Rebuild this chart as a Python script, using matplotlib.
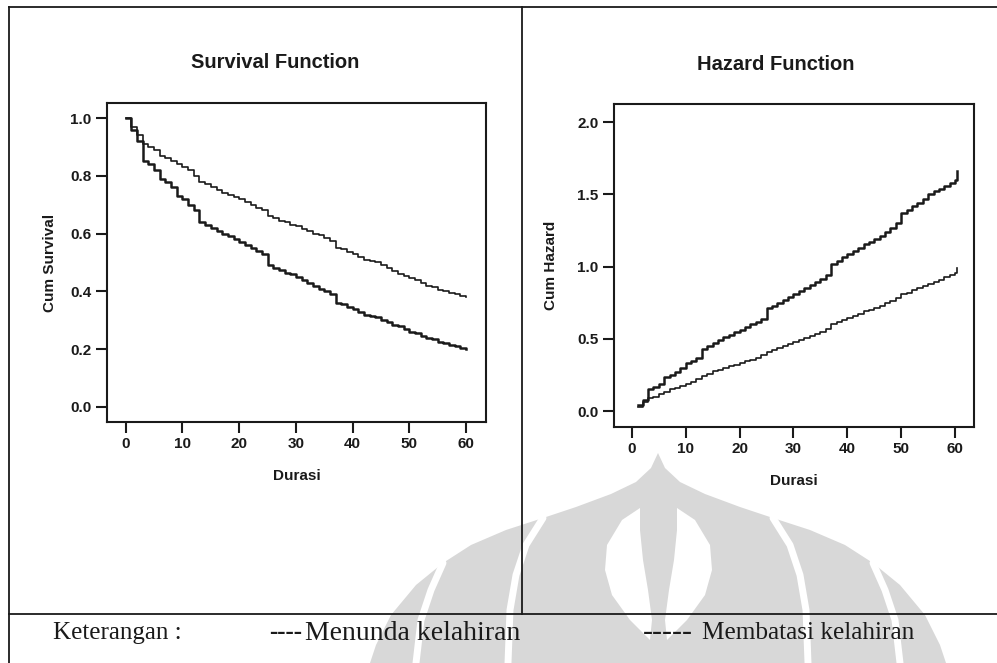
import matplotlib
matplotlib.use("Agg")
import matplotlib.pyplot as plt
from matplotlib.patches import Polygon

# ---------------- data ----------------
surv_time = list(range(0, 61))
surv_menunda = [1.00, 0.96, 0.92, 0.85, 0.84, 0.82, 0.79, 0.78, 0.76, 0.73,
                0.72, 0.70, 0.68, 0.64, 0.63, 0.62, 0.61, 0.60, 0.59, 0.58,
                0.57, 0.56, 0.55, 0.54, 0.53, 0.49, 0.48, 0.475, 0.465, 0.46,
                0.45, 0.44, 0.43, 0.42, 0.41, 0.40, 0.39, 0.36, 0.355, 0.345,
                0.34, 0.33, 0.32, 0.315, 0.31, 0.30, 0.295, 0.285, 0.28, 0.27,
                0.26, 0.255, 0.245, 0.24, 0.235, 0.225, 0.22, 0.215, 0.21, 0.205,
                0.20]
surv_membatasi = [1.00, 0.97, 0.94, 0.91, 0.90, 0.89, 0.87, 0.86, 0.85, 0.84,
                  0.83, 0.82, 0.80, 0.78, 0.77, 0.76, 0.75, 0.74, 0.735, 0.725,
                  0.72, 0.71, 0.70, 0.69, 0.68, 0.66, 0.655, 0.645, 0.64, 0.63,
                  0.625, 0.615, 0.61, 0.60, 0.595, 0.585, 0.575, 0.55, 0.545, 0.535,
                  0.53, 0.52, 0.51, 0.505, 0.50, 0.49, 0.48, 0.47, 0.46, 0.455,
                  0.445, 0.44, 0.43, 0.42, 0.415, 0.405, 0.40, 0.395, 0.39, 0.385,
                  0.38]

haz_time = [1.2] + list(range(2, 61)) + [60.3]
haz_menunda = [0.04, 0.075, 0.155, 0.17, 0.19, 0.235, 0.25, 0.27, 0.30, 0.33,
               0.35, 0.37, 0.43, 0.45, 0.47, 0.49, 0.51, 0.53, 0.545, 0.56,
               0.58, 0.60, 0.62, 0.64, 0.71, 0.725, 0.745, 0.77, 0.79, 0.81,
               0.83, 0.85, 0.87, 0.89, 0.915, 0.94, 1.02, 1.04, 1.065, 1.09,
               1.11, 1.13, 1.155, 1.17, 1.19, 1.215, 1.24, 1.27, 1.30, 1.37,
               1.39, 1.42, 1.44, 1.47, 1.50, 1.52, 1.54, 1.56, 1.58, 1.60,
               1.66]
haz_membatasi = [0.03, 0.06, 0.09, 0.10, 0.12, 0.135, 0.15, 0.16, 0.175, 0.19,
                 0.20, 0.22, 0.245, 0.26, 0.275, 0.285, 0.30, 0.31, 0.32, 0.33,
                 0.345, 0.355, 0.37, 0.385, 0.41, 0.425, 0.44, 0.45, 0.465, 0.48,
                 0.495, 0.505, 0.52, 0.535, 0.55, 0.57, 0.60, 0.615, 0.63, 0.645,
                 0.66, 0.675, 0.69, 0.70, 0.715, 0.73, 0.745, 0.765, 0.785, 0.81,
                 0.82, 0.835, 0.85, 0.865, 0.88, 0.895, 0.91, 0.925, 0.94, 0.955,
                 0.99]

x_ticks = [0, 10, 20, 30, 40, 50, 60]
surv_yticks = [0.0, 0.2, 0.4, 0.6, 0.8, 1.0]
haz_yticks = [0.0, 0.5, 1.0, 1.5, 2.0]

# ---------------- figure ----------------
W, H = 997, 663
fig = plt.figure(figsize=(W / 100, H / 100), dpi=100)
fig.patch.set_facecolor("white")

sans = ["Liberation Sans", "DejaVu Sans"]
serif = ["Liberation Serif", "DejaVu Serif"]
ink = "#1a1a1a"

# background layer in pixel coordinates (watermark, frame, legend)
bg = fig.add_axes([0, 0, 1, 1], zorder=0)
bg.set_xlim(0, W)
bg.set_ylim(H, 0)
bg.axis("off")

wm = "#d8d8d8"
right_sil = [(658, 453), (665, 468), (680, 482), (705, 494), (740, 507),
             (773, 518), (810, 530), (845, 545), (873, 563), (900, 585),
             (925, 615), (940, 645), (946, 663)]
left_sil = [(1316 - x, y) for x, y in right_sil]
sil = right_sil + [(946, 700), (370, 700)] + left_sil[::-1]
bg.add_patch(Polygon(sil, closed=True, facecolor=wm, edgecolor="none", zorder=1))
for gap in ([(773, 518), (790, 545), (800, 575), (806, 610), (808, 663)],
            [(873, 563), (885, 590), (895, 620), (900, 663)]):
    gx = [p[0] for p in gap]
    gy = [p[1] for p in gap]
    bg.plot(gx, gy, color="white", lw=5, solid_capstyle="round", zorder=2)
    bg.plot([1316 - v for v in gx], gy, color="white", lw=5,
            solid_capstyle="round", zorder=2)
lens = [(640, 508), (622, 520), (607, 545), (605, 570), (612, 595), (630, 620),
        (650, 640), (652, 620), (648, 590), (643, 560), (640, 530)]
bg.add_patch(Polygon(lens, closed=True, facecolor="white", edgecolor="none", zorder=2))
bg.add_patch(Polygon([(1317 - x, y) for x, y in lens], closed=True,
                     facecolor="white", edgecolor="none", zorder=2))

# table frame
fl = dict(color=ink, lw=1.3, zorder=5)
bg.plot([9, W], [7, 7], **fl)
bg.plot([9, 9], [7, H], **fl)
bg.plot([522, 522], [7, 614], **fl)
bg.plot([9, W], [614, 614], **fl)

# legend row
ty = 633
bg.text(53, ty, "Keterangan :", family=serif, fontsize=18, color=ink,
        va="center", ha="left", zorder=6)
bg.text(269, ty, "----", family=serif, fontsize=18, fontweight="bold",
        color=ink, va="center", ha="left", zorder=6)
bg.text(305, ty, "Menunda kelahiran", family=serif, fontsize=20, color=ink,
        va="center", ha="left", zorder=6)
bg.text(643, ty, "-----", family=serif, fontsize=21.5, color=ink,
        va="center", ha="left", zorder=6)
bg.text(702, ty, "Membatasi kelahiran", family=serif, fontsize=18.2,
        color=ink, va="center", ha="left", zorder=6)


def style_axes(ax, yticks, ylim, ylabel, title, title_x, title_y):
    ax.set_xlim(-3.3, 63.5)
    ax.set_ylim(*ylim)
    ax.set_xticks(x_ticks)
    ax.set_yticks(yticks)
    ax.set_yticklabels([f"{v:.1f}" for v in yticks])
    for side in ("left", "bottom", "top", "right"):
        ax.spines[side].set_linewidth(1.5)
        ax.spines[side].set_color(ink)
    ax.tick_params(direction="out", length=8, width=1.5, color=ink,
                   labelsize=11, labelcolor=ink, pad=3)
    for lab in ax.get_xticklabels() + ax.get_yticklabels():
        lab.set_fontfamily(sans)
        lab.set_fontweight("bold")
    ax.set_xlabel("Durasi", family=sans, fontweight="bold", fontsize=11,
                  color=ink, labelpad=13)
    ax.set_ylabel(ylabel, family=sans, fontweight="bold", fontsize=11,
                  color=ink, labelpad=10)
    ax.set_facecolor("none")
    fig.text(title_x / W, 1 - title_y / H, title, family=sans,
             fontweight="bold", fontsize=14.5, color=ink, ha="center", va="center")


ax1 = fig.add_axes([107 / W, 1 - 422 / H, 379 / W, 319 / H], zorder=3)
ax1.step(surv_time, surv_menunda, where="post", color=ink, lw=1.8)
ax1.step(surv_time, surv_membatasi, where="post", color=ink, lw=1.2)
style_axes(ax1, surv_yticks, (-0.052, 1.052), "Cum Survival",
           "Survival Function", 275, 63)

ax2 = fig.add_axes([614 / W, 1 - 427 / H, 360 / W, 323 / H], zorder=3)
ax2.step(haz_time, haz_menunda, where="post", color=ink, lw=1.8)
ax2.step(haz_time, haz_membatasi, where="post", color=ink, lw=1.2)
style_axes(ax2, haz_yticks, (-0.11, 2.125), "Cum Hazard",
           "Hazard Function", 776, 65)
ax2.yaxis.labelpad = 14

fig.savefig("out.png", dpi=100, facecolor="white")
